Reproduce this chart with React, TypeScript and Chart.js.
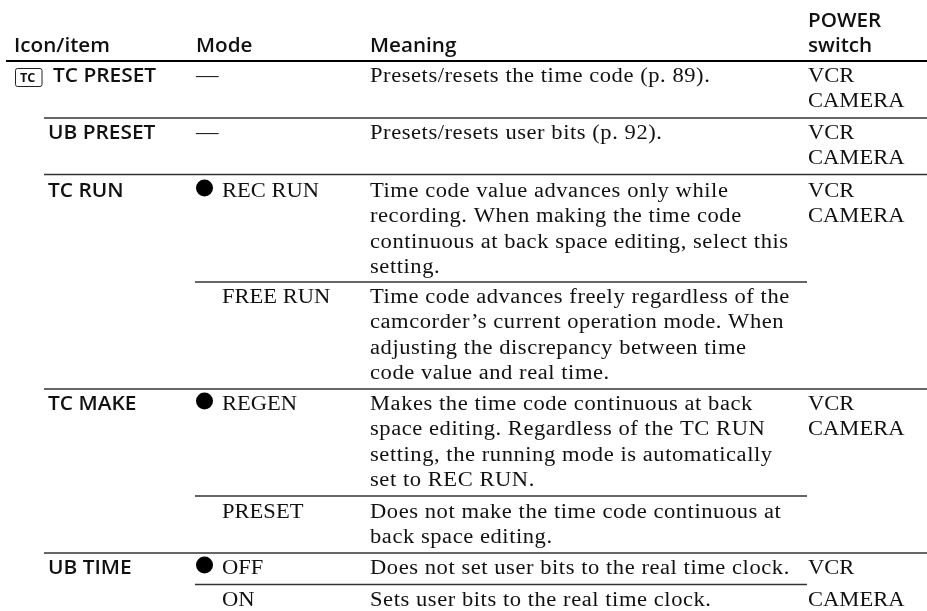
import React, { useEffect, useRef } from "react";
import { Chart, registerables } from "chart.js";

Chart.register(...registerables);

// ---- table content ----
const headerLabels = ["Icon/item", "Mode", "Meaning"];
const powerHeader = ["POWER", "switch"];
const items = ["TC PRESET", "UB PRESET", "TC RUN", "", "TC MAKE", "", "UB TIME", ""];
const modes = ["—", "—", "REC RUN", "FREE RUN", "REGEN", "PRESET", "OFF", "ON"];
const isDefaultMode = [false, false, true, false, true, false, true, false];
const meanings = [
  ["Presets/resets the time code (p. 89)."],
  ["Presets/resets user bits (p. 92)."],
  [
    "Time code value advances only while",
    "recording. When making the time code",
    "continuous at back space editing, select this",
    "setting.",
  ],
  [
    "Time code advances freely regardless of the",
    "camcorder’s current operation mode. When",
    "adjusting the discrepancy between time",
    "code value and real time.",
  ],
  [
    "Makes the time code continuous at back",
    "space editing. Regardless of the TC RUN",
    "setting, the running mode is automatically",
    "set to REC RUN.",
  ],
  ["Does not make the time code continuous at", "back space editing."],
  ["Does not set user bits to the real time clock."],
  ["Sets user bits to the real time clock."],
];
const powerSwitch = [
  ["VCR", "CAMERA"],
  ["VCR", "CAMERA"],
  ["VCR", "CAMERA"],
  [],
  ["VCR", "CAMERA"],
  [],
  ["VCR"],
  ["CAMERA"],
];
const iconLabel = "TC";

// ---- table geometry, in axis units ----
const rowBaselines = [82, 139, 197, 303, 410, 518, 574, 606];
const lineStep = 25.3;
const columnX = { item: 48, mode: 222, dash: 196, meaning: 370, power: 808 };
const headerX = [14, 196, 370];
const headerBaseline = 52;
const ruleY = [61, 118, 174.5, 282, 389, 496, 553, 584.5];
const ruleFrom = [6, 44, 44, 195, 44, 195, 44, 195];
const ruleTo = [927, 927, 927, 807, 927, 807, 927, 807];
const ruleWidth = [2.2, 1.5, 1.5, 1.3, 1.5, 1.5, 1.3, 1.5];

const SERIF = '"Liberation Serif"';
const SANS = '"Open Sans"';

const tablePlugin = {
  id: "tableText",
  afterDatasetsDraw(chart: any) {
    const { ctx, scales } = chart;
    const X = (v: number) => scales.x.getPixelForValue(v);
    const Y = (v: number) => scales.y.getPixelForValue(v);
    const put = (t: string, x: number, y: number, font: string, stretch = 1, spacing = "0px") => {
      ctx.save();
      ctx.font = font;
      (ctx as any).letterSpacing = spacing;
      ctx.translate(X(x), Y(y));
      ctx.scale(stretch, 1);
      ctx.fillText(t, 0, 0);
      ctx.restore();
    };
    const bold = `600 19.5px ${SANS}`;
    const serif = `20.5px ${SERIF}`;
    const sx = 1.1;
    const sp = "0.5px";
    ctx.save();
    ctx.fillStyle = "#111";
    ctx.textAlign = "left";
    ctx.textBaseline = "alphabetic";

    headerLabels.forEach((t, i) => put(t, headerX[i], headerBaseline, bold, 1.06));
    powerHeader.forEach((t, i) =>
      put(t, columnX.power, headerBaseline - (powerHeader.length - 1 - i) * lineStep, bold, 1.06)
    );

    rowBaselines.forEach((base, r) => {
      if (items[r]) put(items[r], r === 0 ? 53 : columnX.item, base, bold, 1.07);
      const dash = modes[r] === "—";
      put(modes[r], dash ? columnX.dash : columnX.mode, base, serif, sx);
      meanings[r].forEach((t, l) => put(t, columnX.meaning, base + l * lineStep, serif, sx, sp));
      powerSwitch[r].forEach((t, l) => put(t, columnX.power, base + l * lineStep, serif, sx));
    });

    // boxed icon in the first row
    ctx.strokeStyle = "#222";
    ctx.lineWidth = 1;
    ctx.beginPath();
    ctx.roundRect(X(15.5), Y(68.5), 26.5, 18, 2);
    ctx.stroke();
    put(iconLabel, 20, 82, `700 12px ${SANS}`, 1.05);
    ctx.restore();
  },
};

export default function App() {
  const ref = useRef<HTMLCanvasElement | null>(null);
  useEffect(() => {
    document.body.style.margin = "0";
    document.body.style.background = "#fff";
    const ruleSets = ruleY.map((y, i) => ({
      type: "line" as const,
      data: [
        { x: ruleFrom[i], y },
        { x: ruleTo[i], y },
      ],
      borderColor: i === 0 ? "#000" : "#333",
      borderWidth: ruleWidth[i],
      pointRadius: 0,
    }));
    const bulletSet = {
      type: "scatter" as const,
      data: rowBaselines
        .map((b, r) => (isDefaultMode[r] ? { x: 204.5, y: b - 9 } : null))
        .filter(Boolean),
      backgroundColor: "#000",
      borderWidth: 0,
      pointRadius: 8.5,
    };
    const chart = new Chart(ref.current as HTMLCanvasElement, {
      type: "scatter",
      data: { datasets: [...ruleSets, bulletSet] as any },
      options: {
        animation: false,
        responsive: false,
        layout: { padding: 0, autoPadding: false },
        plugins: { legend: { display: false }, tooltip: { enabled: false } },
        scales: {
          x: { type: "linear", min: 0, max: 927, display: false },
          y: { type: "linear", min: 0, max: 611, reverse: true, display: false },
        },
      },
      plugins: [tablePlugin],
    });
    return () => chart.destroy();
  }, []);
  return (
    <div style={{ position: "absolute", left: 0, top: 0, width: 927, height: 611, background: "#fff" }}>
      <canvas ref={ref} width={927} height={611} style={{ display: "block" }} />
    </div>
  );
}
